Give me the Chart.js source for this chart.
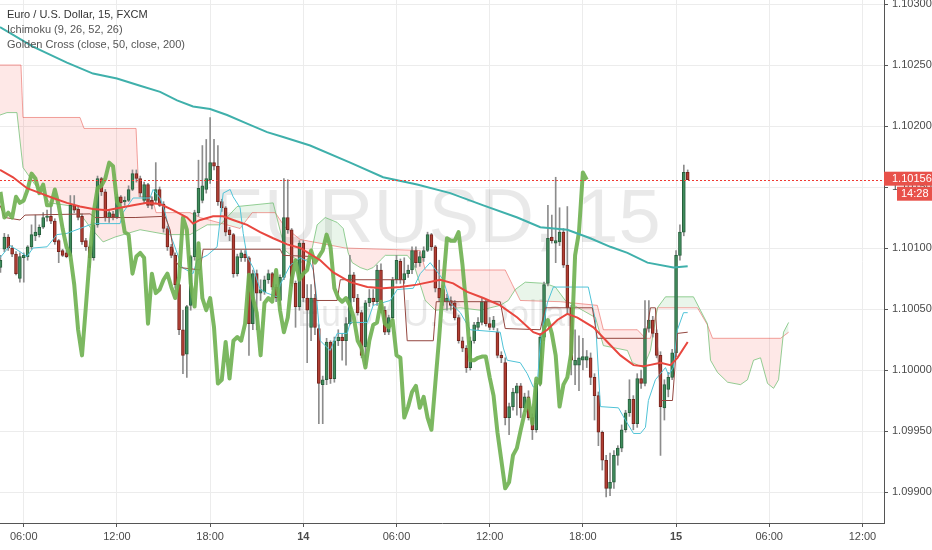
<!DOCTYPE html>
<html>
<head>
<meta charset="utf-8">
<title>EURUSD 15</title>
<script src="https://cdn.jsdelivr.net/npm/chart.js@4.4.1/dist/chart.umd.min.js"></script>
<style>
  html, body { margin: 0; padding: 0; background: #fff; }
  #wrap { width: 932px; height: 550px; }
</style>
</head>
<body>
<div id="wrap"><canvas id="chart"></canvas></div>
<script>
// EURUSD 15 min, first candle 04:30 on the 13th (x axis is hours since 00:00 on the 13th)
const startHour = 4.5;
const barHours = 0.25;

const opens = [
  1.10084, 1.10099, 1.10109, 1.10100, 1.10095, 1.10075, 1.10092, 1.10093, 1.10101, 1.10110,
  1.10111, 1.10117, 1.10125, 1.10126, 1.10122, 1.10106, 1.10098, 1.10096, 1.10094, 1.10135,
  1.10132, 1.10126, 1.10106, 1.10101, 1.10092, 1.10119, 1.10157, 1.10146, 1.10125, 1.10128,
  1.10125, 1.10142, 1.10138, 1.10139, 1.10148, 1.10161, 1.10157, 1.10139, 1.10152, 1.10139,
  1.10139, 1.10148, 1.10136, 1.10116, 1.10101, 1.10094, 1.10070, 1.10033, 1.10013, 1.10053,
  1.10093, 1.10129, 1.10139, 1.10148, 1.10156, 1.10170, 1.10167, 1.10138, 1.10133, 1.10115,
  1.10111, 1.10079, 1.10092, 1.10095, 1.10092, 1.10038, 1.10079, 1.10063, 1.10064, 1.10074,
  1.10079, 1.10068, 1.10057, 1.10076, 1.10125, 1.10115, 1.10071, 1.10052, 1.10104, 1.10059,
  1.10035, 1.10059, 1.10034, 1.09988, 1.09992, 1.10023, 1.09993, 1.10024, 1.10027, 1.10024,
  1.10038, 1.10078, 1.10059, 1.10047, 1.10019, 1.10055, 1.10059, 1.10056, 1.10082, 1.10049,
  1.10031, 1.10043, 1.10074, 1.10089, 1.10074, 1.10079, 1.10082, 1.10098, 1.10088, 1.10092,
  1.10098, 1.10111, 1.10101, 1.10067, 1.10066, 1.10056, 1.10057, 1.10055, 1.10043, 1.10024,
  1.10018, 1.10002, 1.10024, 1.10035, 1.10039, 1.10056, 1.10038, 1.10035, 1.10031, 1.10012,
  1.10006, 1.09961, 1.09970, 1.09981, 1.09987, 1.09969, 1.09978, 1.09961, 1.09951, 1.09989,
  1.10027, 1.10071, 1.10109, 1.10104, 1.10105, 1.10113, 1.10086, 1.10051, 1.10004, 1.10004,
  1.10008, 1.10008, 1.10010, 1.09994, 1.09979, 1.09949, 1.09926, 1.09903, 1.09908, 1.09930,
  1.09936, 1.09951, 1.09965, 1.09976, 1.09956, 1.09993, 1.09989, 1.10034, 1.10041, 1.10030,
  1.10012, 1.09969, 1.09984, 1.09994, 1.10014, 1.10094, 1.10113, 1.10162
];
const highs = [
  1.10094, 1.10112, 1.10111, 1.10102, 1.10097, 1.10096, 1.10096, 1.10102, 1.10119, 1.10127,
  1.10119, 1.10129, 1.10131, 1.10137, 1.10124, 1.10107, 1.10099, 1.10098, 1.10143, 1.10143,
  1.10134, 1.10128, 1.10108, 1.10102, 1.10121, 1.10159, 1.10158, 1.10148, 1.10131, 1.10130,
  1.10144, 1.10143, 1.10142, 1.10151, 1.10164, 1.10164, 1.10159, 1.10154, 1.10153, 1.10142,
  1.10170, 1.10150, 1.10138, 1.10118, 1.10103, 1.10096, 1.10071, 1.10049, 1.10053, 1.10094,
  1.10131, 1.10172, 1.10184, 1.10189, 1.10207, 1.10189, 1.10184, 1.10140, 1.10134, 1.10117,
  1.10112, 1.10095, 1.10098, 1.10098, 1.10093, 1.10082, 1.10082, 1.10074, 1.10077, 1.10082,
  1.10080, 1.10070, 1.10078, 1.10157, 1.10156, 1.10116, 1.10073, 1.10106, 1.10106, 1.10070,
  1.10070, 1.10062, 1.10037, 1.09995, 1.10026, 1.10024, 1.10027, 1.10033, 1.10030, 1.10043,
  1.10094, 1.10080, 1.10062, 1.10049, 1.10057, 1.10066, 1.10066, 1.10086, 1.10087, 1.10052,
  1.10045, 1.10076, 1.10094, 1.10091, 1.10092, 1.10086, 1.10101, 1.10101, 1.10097, 1.10101,
  1.10113, 1.10112, 1.10102, 1.10090, 1.10069, 1.10062, 1.10060, 1.10057, 1.10045, 1.10027,
  1.10020, 1.10027, 1.10039, 1.10043, 1.10059, 1.10058, 1.10043, 1.10044, 1.10034, 1.10015,
  1.10010, 1.09973, 1.09985, 1.09989, 1.09989, 1.09981, 1.09983, 1.09964, 1.09992, 1.10030,
  1.10072, 1.10135, 1.10127, 1.10158, 1.10133, 1.10116, 1.10134, 1.10053, 1.10033, 1.10028,
  1.10026, 1.10016, 1.10014, 1.09997, 1.09982, 1.09950, 1.09930, 1.09932, 1.09934, 1.09938,
  1.09955, 1.09967, 1.09992, 1.09979, 1.09997, 1.10000, 1.10057, 1.10057, 1.10044, 1.10033,
  1.10015, 1.09992, 1.09998, 1.10017, 1.10098, 1.10119, 1.10168, 1.10164
];
const lows = [
  1.10080, 1.10097, 1.10098, 1.10093, 1.10078, 1.10072, 1.10072, 1.10090, 1.10099, 1.10106,
  1.10109, 1.10116, 1.10122, 1.10120, 1.10103, 1.10088, 1.10093, 1.10092, 1.10093, 1.10129,
  1.10123, 1.10103, 1.10098, 1.10084, 1.10090, 1.10117, 1.10143, 1.10122, 1.10121, 1.10123,
  1.10124, 1.10135, 1.10135, 1.10138, 1.10147, 1.10154, 1.10142, 1.10137, 1.10133, 1.10132,
  1.10137, 1.10134, 1.10113, 1.10098, 1.10092, 1.10067, 1.10029, 1.09997, 1.09994, 1.10049,
  1.10090, 1.10126, 1.10137, 1.10145, 1.10153, 1.10164, 1.10135, 1.10130, 1.10110, 1.10106,
  1.10076, 1.10077, 1.10089, 1.10089, 1.10012, 1.10033, 1.10033, 1.10057, 1.10062, 1.10071,
  1.10066, 1.10056, 1.10053, 1.10074, 1.10112, 1.10069, 1.10035, 1.10049, 1.10056, 1.10006,
  1.10024, 1.10029, 1.09956, 1.09956, 1.09988, 1.09989, 1.09990, 1.10020, 1.10008, 1.10004,
  1.10037, 1.10056, 1.10045, 1.10010, 1.10004, 1.10052, 1.10053, 1.10053, 1.10047, 1.10029,
  1.10029, 1.10041, 1.10071, 1.10071, 1.10071, 1.10076, 1.10079, 1.10084, 1.10085, 1.10089,
  1.10097, 1.10098, 1.10064, 1.10056, 1.10053, 1.10049, 1.10049, 1.10041, 1.10022, 1.10015,
  1.09998, 1.10000, 1.10022, 1.10033, 1.10037, 1.10036, 1.10033, 1.10033, 1.10010, 1.10006,
  1.09955, 1.09947, 1.09967, 1.09963, 1.09961, 1.09966, 1.09959, 1.09943, 1.09949, 1.09987,
  1.10024, 1.10069, 1.10104, 1.10088, 1.10102, 1.10084, 1.10047, 1.09996, 1.09988, 1.09983,
  1.10000, 1.10002, 1.09988, 1.09959, 1.09938, 1.09918, 1.09896, 1.09897, 1.09903, 1.09922,
  1.09933, 1.09949, 1.09962, 1.09951, 1.09953, 1.09985, 1.09987, 1.10031, 1.10027, 1.10010,
  1.09930, 1.09959, 1.09978, 1.09992, 1.10011, 1.10090, 1.10110, 1.10156
];
const closes = [
  1.10090, 1.10109, 1.10100, 1.10095, 1.10079, 1.10093, 1.10094, 1.10101, 1.10111, 1.10113,
  1.10117, 1.10125, 1.10126, 1.10122, 1.10105, 1.10097, 1.10094, 1.10093, 1.10135, 1.10131,
  1.10125, 1.10105, 1.10101, 1.10092, 1.10119, 1.10157, 1.10146, 1.10125, 1.10129, 1.10125,
  1.10142, 1.10137, 1.10139, 1.10148, 1.10161, 1.10157, 1.10145, 1.10152, 1.10135, 1.10135,
  1.10148, 1.10135, 1.10116, 1.10101, 1.10094, 1.10070, 1.10033, 1.10012, 1.10052, 1.10093,
  1.10129, 1.10149, 1.10151, 1.10157, 1.10170, 1.10167, 1.10138, 1.10133, 1.10113, 1.10111,
  1.10079, 1.10093, 1.10096, 1.10092, 1.10038, 1.10079, 1.10063, 1.10066, 1.10074, 1.10079,
  1.10068, 1.10059, 1.10076, 1.10125, 1.10115, 1.10071, 1.10052, 1.10104, 1.10059, 1.10049,
  1.10059, 1.10035, 1.09989, 1.09992, 1.10023, 1.09993, 1.10024, 1.10027, 1.10024, 1.10038,
  1.10078, 1.10059, 1.10047, 1.10012, 1.10055, 1.10059, 1.10056, 1.10082, 1.10049, 1.10031,
  1.10043, 1.10074, 1.10090, 1.10074, 1.10079, 1.10082, 1.10098, 1.10088, 1.10093, 1.10098,
  1.10111, 1.10101, 1.10067, 1.10059, 1.10056, 1.10059, 1.10053, 1.10043, 1.10024, 1.10018,
  1.10002, 1.10024, 1.10037, 1.10039, 1.10056, 1.10038, 1.10035, 1.10041, 1.10012, 1.10010,
  1.09961, 1.09970, 1.09982, 1.09987, 1.09969, 1.09978, 1.09961, 1.09951, 1.09989, 1.10027,
  1.10070, 1.10108, 1.10106, 1.10106, 1.10113, 1.10086, 1.10051, 1.10008, 1.10008, 1.10010,
  1.10011, 1.10011, 1.09994, 1.09979, 1.09949, 1.09926, 1.09903, 1.09908, 1.09930, 1.09936,
  1.09951, 1.09965, 1.09976, 1.09956, 1.09993, 1.09989, 1.10034, 1.10041, 1.10030, 1.10012,
  1.09970, 1.09988, 1.09994, 1.10014, 1.10094, 1.10113, 1.10162, 1.10156
];

// indicator lines, [hour, price]
const ma50 = [
  [4.47, 1.10164], [5.31, 1.10158], [6.21, 1.10149], [7.05, 1.10145], [7.88, 1.10141],
  [8.78, 1.10137], [9.62, 1.10134], [10.46, 1.10132], [11.36, 1.10131], [12.2, 1.10133],
  [13.04, 1.10135], [13.94, 1.10137], [14.78, 1.10136], [15.61, 1.10131], [16.52, 1.10125],
  [16.9, 1.10120], [17.36, 1.10123], [18.19, 1.10126], [18.84, 1.10126], [19.48, 1.10123],
  [20.38, 1.10119], [21.22, 1.10113], [22.06, 1.10108], [22.96, 1.10103], [23.8, 1.10100],
  [25.09, 1.10090], [25.93, 1.10080], [27.02, 1.10072], [28.12, 1.10068], [29.14, 1.10067],
  [30.24, 1.10068], [31.33, 1.10070], [32.82, 1.10074], [33.65, 1.10071], [34.56, 1.10064],
  [35.59, 1.10059], [36.68, 1.10053], [37.78, 1.10043], [38.81, 1.10031], [39.26, 1.10029],
  [39.71, 1.10033], [40.36, 1.10041], [41.0, 1.10046], [41.65, 1.10043], [42.68, 1.10035],
  [43.58, 1.10023], [44.42, 1.10012], [45.26, 1.10004], [45.9, 1.10003], [47.0, 1.10006],
  [47.64, 1.10004], [48.09, 1.10010], [48.75, 1.10023]
];
const ma200 = [
  [4.47, 1.10281], [6.59, 1.10265], [8.78, 1.10252], [10.46, 1.10243], [12.0, 1.10239],
  [13.49, 1.10233], [14.78, 1.10228], [15.87, 1.10221], [16.9, 1.10216], [18.0, 1.10214],
  [19.09, 1.10209], [20.38, 1.10202], [21.67, 1.10195], [22.7, 1.10191], [24.44, 1.10184],
  [27.02, 1.10170], [29.14, 1.10158], [31.33, 1.10152], [33.46, 1.10145], [35.59, 1.10135],
  [37.78, 1.10125], [39.26, 1.10117], [41.0, 1.10115], [42.48, 1.10108], [43.77, 1.10101],
  [44.87, 1.10096], [46.16, 1.10088], [47.83, 1.10084], [48.75, 1.10085]
];
const tenkan = [
  [4.47, 1.10092], [5.11, 1.10102], [5.76, 1.10097], [6.21, 1.10093], [6.59, 1.10100],
  [7.5, 1.10101], [8.14, 1.10111], [8.78, 1.10112], [9.62, 1.10116], [10.46, 1.10120],
  [12.2, 1.10120], [12.39, 1.10129], [13.04, 1.10141], [14.13, 1.10141], [14.33, 1.10148],
  [14.78, 1.10141], [15.1, 1.10129], [15.42, 1.10112], [15.87, 1.10096], [16.2, 1.10084],
  [16.9, 1.10079], [17.16, 1.10090], [17.81, 1.10094], [18.45, 1.10101], [18.64, 1.10123],
  [18.84, 1.10145], [19.29, 1.10148], [19.48, 1.10142], [19.93, 1.10133], [20.13, 1.10112],
  [20.38, 1.10093], [20.77, 1.10084], [21.22, 1.10066], [21.67, 1.10063], [22.32, 1.10060],
  [22.51, 1.10070], [23.16, 1.10086], [23.8, 1.10092], [24.44, 1.10088], [24.64, 1.10082],
  [24.83, 1.10063], [25.09, 1.10024], [25.73, 1.10016], [26.18, 1.10030], [26.83, 1.10030],
  [27.02, 1.10039], [28.12, 1.10039], [28.5, 1.10053], [29.6, 1.10057], [30.05, 1.10066],
  [31.08, 1.10067], [31.53, 1.10079], [32.17, 1.10088], [33.01, 1.10074], [33.46, 1.10055],
  [34.11, 1.10047], [34.75, 1.10033], [36.68, 1.10031], [36.88, 1.10018], [37.13, 1.10008],
  [37.97, 1.10006], [38.42, 1.09997], [38.81, 1.09986], [39.07, 1.09989], [39.26, 1.10022],
  [39.71, 1.10055], [40.1, 1.10068], [42.35, 1.10068], [42.81, 1.10041], [43.13, 1.09970],
  [44.29, 1.09969], [44.74, 1.09959], [45.26, 1.09948], [45.71, 1.09948], [46.03, 1.09953],
  [46.22, 1.09975], [46.67, 1.09992], [47.32, 1.10002], [47.51, 1.09996], [47.83, 1.10002],
  [48.09, 1.10033], [48.48, 1.10047], [48.75, 1.10047]
];
const kijun = [
  [4.47, 1.10135], [4.79, 1.10125], [5.76, 1.10123], [6.08, 1.10127], [10.27, 1.10128],
  [10.59, 1.10125], [13.17, 1.10125], [15.1, 1.10126], [15.42, 1.10115], [15.74, 1.10090],
  [16.07, 1.10084], [17.36, 1.10082], [17.55, 1.10099], [22.51, 1.10099], [22.7, 1.10094],
  [24.57, 1.10093], [24.83, 1.10057], [26.18, 1.10057], [26.38, 1.10074], [30.44, 1.10074],
  [30.69, 1.10024], [32.37, 1.10024], [32.56, 1.10056], [36.68, 1.10056], [37.0, 1.10034],
  [39.26, 1.10033], [39.58, 1.10051], [42.61, 1.10051], [42.93, 1.10026], [46.03, 1.10026],
  [46.35, 1.10051], [46.67, 1.10051], [47.0, 1.09975], [47.77, 1.09975], [48.09, 1.10030],
  [48.75, 1.10031]
];
const spanA = [
  [4.47, 1.10209], [4.92, 1.10211], [5.56, 1.10211], [5.95, 1.10166], [6.72, 1.10152],
  [7.69, 1.10137], [9.3, 1.10134], [10.27, 1.10117], [11.11, 1.10105], [11.88, 1.10109],
  [13.49, 1.10115], [15.23, 1.10111], [16.71, 1.10111], [17.81, 1.10119], [18.64, 1.10119],
  [19.74, 1.10134], [22.06, 1.10137], [22.83, 1.10098], [23.8, 1.10088], [24.44, 1.10092],
  [24.89, 1.10119], [25.41, 1.10125], [26.18, 1.10121], [26.57, 1.10116], [26.89, 1.10096],
  [27.15, 1.10088], [27.66, 1.10084], [28.12, 1.10082], [28.5, 1.10084], [28.96, 1.10090],
  [29.28, 1.10094], [30.69, 1.10094], [31.08, 1.10088], [31.85, 1.10057], [32.5, 1.10049],
  [34.11, 1.10051], [35.4, 1.10049], [36.68, 1.10053], [37.2, 1.10057], [37.65, 1.10066],
  [38.29, 1.10072], [39.58, 1.10071], [40.23, 1.10068], [40.87, 1.10057], [42.81, 1.10043],
  [43.32, 1.10020], [44.87, 1.10016], [45.19, 1.10006], [45.9, 1.10002], [46.35, 1.10016],
  [46.8, 1.10051], [47.32, 1.10060], [49.12, 1.10060], [49.57, 1.10049], [50.02, 1.10038],
  [50.22, 1.10008], [50.67, 1.09998], [51.32, 1.09990], [52.15, 1.09988], [52.6, 1.09992],
  [52.99, 1.10008], [53.44, 1.10010], [53.89, 1.09989], [54.28, 1.09985], [54.6, 1.09992],
  [54.92, 1.10031], [55.25, 1.10039]
];
const spanB = [
  [4.47, 1.10250], [5.82, 1.10250], [5.95, 1.10207], [9.62, 1.10207], [9.88, 1.10198],
  [13.23, 1.10198], [13.42, 1.10142], [14.26, 1.10142], [14.52, 1.10129], [16.71, 1.10129],
  [17.36, 1.10125], [19.93, 1.10116], [20.71, 1.10129], [22.19, 1.10129], [22.83, 1.10117],
  [23.8, 1.10107], [26.7, 1.10100], [31.53, 1.10098], [31.85, 1.10082], [37.0, 1.10082],
  [37.46, 1.10070], [37.97, 1.10057], [40.55, 1.10056], [42.93, 1.10053], [43.32, 1.10033],
  [45.51, 1.10033], [46.03, 1.10026], [46.35, 1.10026], [46.8, 1.10051], [49.38, 1.10051],
  [50.02, 1.10037], [50.35, 1.10026], [54.73, 1.10026], [55.25, 1.10031]
];
const laggingShift = 26;

const tickHours = [6, 12, 18, 24, 30, 36, 42, 48, 54, 60];
const tickLabels = ['06:00', '12:00', '18:00', '14', '06:00', '12:00', '18:00', '15', '06:00', '12:00'];
const dayTicks = [24, 48];
const priceTicks = [1.099, 1.0995, 1.1, 1.1005, 1.101, 1.1015, 1.102, 1.1025, 1.103];
const countdown = '14:28';
const titleLines = ['Euro / U.S. Dollar, 15, FXCM', 'Ichimoku (9, 26, 52, 26)', 'Golden Cross (close, 50, close, 200)'];
const watermark = ['EURUSD, 15', 'Euro / U.S. Dollar'];

const FONT = '"Liberation Sans", Arial, sans-serif';
const UP = '#3f8c5c', UP_EDGE = '#285f3d';
const DOWN = '#b13e33', DOWN_EDGE = '#75241d';

function barTime(i) { return startHour + i * barHours; }
const pts = arr => arr.map(p => ({ x: p[0], y: p[1] }));

const wickData = highs.map((h, i) => ({ x: barTime(i), y: [lows[i], h] }));
const bodyData = opens.map((o, i) => ({ x: barTime(i), y: [o, closes[i]] }));
const isUp = opens.map((o, i) => closes[i] >= o);
// lagging span: close plotted 26 bars back
const lagging = closes.slice(laggingShift).map((c, j) => ({ x: barTime(j), y: c }));

const lastPrice = closes[closes.length - 1];

const overlay = {
  id: 'overlay',
  beforeDatasetsDraw(chart) {
    const ctx = chart.ctx;
    ctx.save();
    ctx.fillStyle = 'rgba(0,0,0,0.085)';
    ctx.textAlign = 'center';
    ctx.textBaseline = 'alphabetic';
    ctx.font = '76px ' + FONT;
    ctx.fillText(watermark[0], 437, 242);
    ctx.font = '36px ' + FONT;
    ctx.fillText(watermark[1], 437, 326);
    ctx.restore();
  },
  afterDatasetsDraw(chart) {
    const { ctx, chartArea: a } = chart;
    const y = Math.round(chart.scales.y.getPixelForValue(lastPrice)) + 0.5;
    ctx.save();
    ctx.strokeStyle = '#f03a32';
    ctx.lineWidth = 1;
    ctx.setLineDash([2, 2]);
    ctx.beginPath();
    ctx.moveTo(a.left, y);
    ctx.lineTo(a.right, y);
    ctx.stroke();
    ctx.restore();
  },
  afterDraw(chart) {
    const { ctx, chartArea: a } = chart;
    const y = chart.scales.y.getPixelForValue(lastPrice);
    ctx.save();
    // price and countdown labels on the axis
    ctx.fillStyle = '#e8514a';
    ctx.fillRect(a.right, y - 8, chart.width - a.right, 14);
    ctx.fillRect(a.right + 13, y + 7, chart.width - a.right - 13, 14);
    ctx.fillStyle = '#fff';
    ctx.font = '11px ' + FONT;
    ctx.textBaseline = 'middle';
    ctx.textAlign = 'left';
    ctx.fillText(lastPrice.toFixed(5), a.right + 8, y - 1);
    ctx.fillText(countdown, a.right + 17, y + 14);
    // title lines
    ctx.font = '11px ' + FONT;
    titleLines.forEach((t, i) => {
      ctx.fillStyle = i === 0 ? '#333' : '#555';
      ctx.fillText(t, 7, 15 + i * 15);
    });
    ctx.restore();
  }
};

const line = (data, color, width, order) => ({
  type: 'line', data: pts(data), borderColor: color, borderWidth: width,
  pointRadius: 0, tension: 0, fill: false, order: order
});

new Chart(document.getElementById('chart'), {
  type: 'bar',
  data: {
    datasets: [
      { type: 'line', data: pts(spanB), borderColor: 'rgba(239,83,80,0.55)', borderWidth: 1,
        pointRadius: 0, fill: false, order: 9 },
      { type: 'line', data: pts(spanA), borderColor: 'rgba(102,187,106,0.7)', borderWidth: 1,
        pointRadius: 0, order: 8,
        fill: { target: 0, above: 'rgba(76,175,80,0.12)', below: 'rgba(244,67,54,0.12)' } },
      { type: 'bar', data: wickData, backgroundColor: '#8c8c8c', barThickness: 1,
        grouped: false, order: 7 },
      { type: 'bar', data: bodyData, barThickness: 3, grouped: false, minBarLength: 1,
        backgroundColor: isUp.map(u => u ? UP : DOWN),
        borderColor: isUp.map(u => u ? UP_EDGE : DOWN_EDGE),
        borderWidth: 1, borderSkipped: false, order: 6 },
      line(tenkan, '#4fc3d7', 1, 5),
      line(kijun, '#93463f', 1, 4),
      { type: 'line', data: lagging, borderColor: 'rgba(110,176,80,0.9)', borderWidth: 4,
        pointRadius: 0, tension: 0, fill: false, borderJoinStyle: 'round', order: 3 },
      line(ma50, '#e8473f', 2, 2),
      line(ma200, '#3fb0ab', 2, 1)
    ]
  },
  options: {
    responsive: true,
    maintainAspectRatio: false,
    animation: false,
    layout: { padding: 0, autoPadding: false },
    plugins: { legend: { display: false }, tooltip: { enabled: false } },
    scales: {
      x: {
        type: 'linear', min: 4.47, max: 61.39, offset: false,
        grid: { color: '#ececec', tickColor: '#555', tickLength: 4, offset: false },
        border: { display: true, color: '#555' },
        afterBuildTicks: s => { s.ticks = tickHours.map(v => ({ value: v })); },
        afterFit: s => { s.height = 27; s.paddingLeft = 0; s.paddingRight = 0; },
        ticks: {
          autoSkip: false, maxRotation: 0, padding: 3, color: '#4a4a4a',
          font: c => ({ family: FONT, size: 11, weight: dayTicks.includes(c.tick && c.tick.value) ? 'bold' : 'normal' }),
          callback: v => tickLabels[tickHours.indexOf(v)]
        }
      },
      y: {
        type: 'linear', position: 'right', min: 1.098746, max: 1.103033,
        grid: { color: '#ececec', tickColor: '#555', tickLength: 4 },
        border: { display: true, color: '#555' },
        afterBuildTicks: s => { s.ticks = priceTicks.map(v => ({ value: v })); },
        afterFit: s => { s.width = 48; s.paddingTop = 0; s.paddingBottom = 0; },
        ticks: { padding: 4, color: '#4a4a4a', font: { family: FONT, size: 11 },
          callback: v => v.toFixed(5) }
      }
    }
  },
  plugins: [overlay]
});
</script>
</body>
</html>
